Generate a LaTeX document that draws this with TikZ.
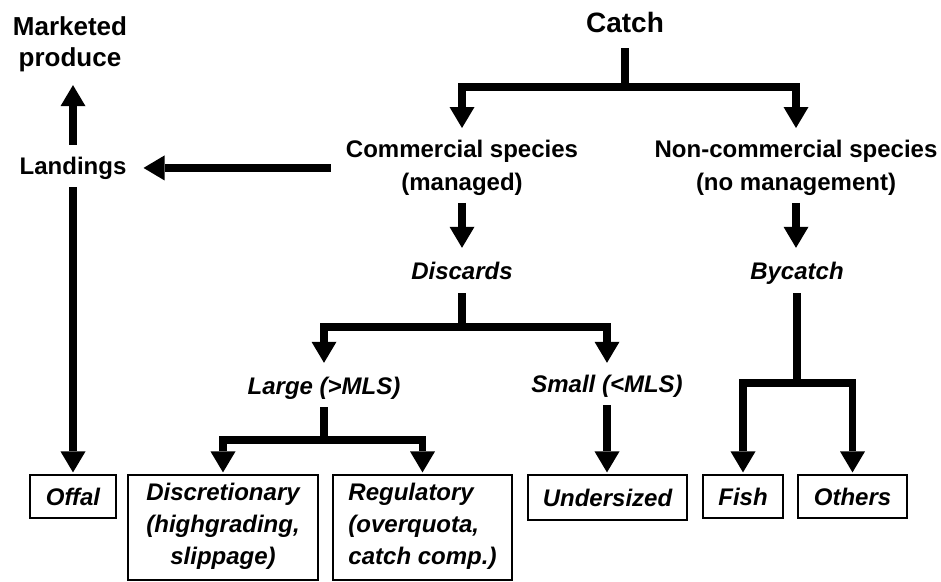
\documentclass[tikz,border=0pt]{standalone}
\usepackage{fontspec}
\setmainfont{Liberation Sans}
\usetikzlibrary{arrows.meta}
\begin{document}
\begin{tikzpicture}[x=1pt,y=-1pt,
  txt/.style={inner sep=0pt, text height=17pt, text depth=5pt, font=\fontsize{24}{33}\selectfont\bfseries},
  itxt/.style={txt, font=\fontsize{24}{33}\selectfont\bfseries\itshape},
  mtxt/.style={inner sep=0pt, align=center, font=\fontsize{24}{33}\selectfont\bfseries},
  box/.style={draw, line width=1.2pt, inner sep=0pt, font=\fontsize{24}{32}\selectfont\bfseries\itshape},
  link/.style={line width=7.5pt, line join=miter},
  arr/.style={link, -{Triangle[width=25pt,length=21pt,line width=0pt]}},
  arrs/.style={link, {Triangle[width=25pt,length=21pt,line width=0pt]}-{Triangle[width=25pt,length=21pt,line width=0pt]}},
]
\useasboundingbox (0,0) rectangle (941,581);

% text nodes
\node[txt, anchor=base, text height=20pt, font=\fontsize{28}{33}\selectfont\bfseries] (catch) at (625,32) {Catch};
\node[mtxt, anchor=north, font=\fontsize{26}{31}\selectfont\bfseries] (market) at (70,16) {Marketed\\produce};
\node[txt, anchor=base] (land) at (73,174) {Landings};
\node[mtxt, anchor=north] (comm) at (462,140) {Commercial species\\(managed)};
\node[mtxt, anchor=north] (noncomm) at (796,140) {Non-commercial species\\(no management)};
\node[itxt, anchor=base] (disc) at (462,279) {Discards};
\node[itxt, anchor=base] (bycatch) at (797,279) {Bycatch};
\node[itxt, anchor=base] (large) at (324,394) {Large (>MLS)};
\node[itxt, anchor=base] (small) at (607,392) {Small (<MLS)};

% boxes
\node[box, minimum width=86pt, minimum height=43pt] (offal) at (73,496.5) {Offal};
\node[box, minimum width=190pt, minimum height=105pt, align=center, text depth=8pt] (discr) at (223,527.5) {Discretionary\\(highgrading,\\slippage)};
\node[box, minimum width=179pt, minimum height=105pt, align=left, text depth=8pt] (reg) at (422.5,527.5) {Regulatory\\(overquota,\\catch comp.)};
\node[box, minimum width=159pt, minimum height=45pt] (under) at (607.5,497.5) {Undersized};
\node[box, minimum width=80pt, minimum height=43pt] (fish) at (743,496.5) {Fish};
\node[box, minimum width=109pt, minimum height=43pt] (others) at (852.5,496.5) {Others};

% junctions
\coordinate (catchbar) at (625,87);
\coordinate (discbar) at (462,327);
\coordinate (largebar) at (324,440);
\coordinate (bybar) at (797,383);

% connectors
\draw[link, shorten <=11pt] (catch.south) -- (catchbar);
\draw[arrs, shorten <=12pt, shorten >=12pt] (comm.north) |- (catchbar) -| (noncomm.north);
\draw[arr, shorten <=15pt, shorten >=17pt] (comm.west) -- (comm.west -| land.east);
\draw[arr, shorten <=12pt, shorten >=13.5pt] (land.north) -- (land.north |- market.south);
\draw[arr, shorten <=8pt, shorten >=2pt] (land.south) -- (land.south |- offal.north);
\draw[arr, shorten <=7pt, shorten >=14pt] (comm.south) -- (comm.south |- disc.north);
\draw[arr, shorten <=7pt, shorten >=14pt] (noncomm.south) -- (noncomm.south |- bycatch.north);
\draw[link, shorten <=9pt] (disc.south) -- (discbar);
\draw[arrs, shorten <=14pt, shorten >=12pt] (large.north) |- (discbar) -| (small.north);
\draw[link, shorten <=8pt] (large.south) -- (largebar);
\draw[arrs, shorten <=2pt, shorten >=2pt] (discr.north) |- (largebar) -| (reg.north);
\draw[arr, shorten <=8pt, shorten >=2pt] (small.south) -- (small.south |- under.north);
\draw[link, shorten <=9pt] (bycatch.south) -- (bybar);
\draw[arrs, shorten <=2pt, shorten >=2pt] (fish.north) |- (bybar) -| (others.north);
\end{tikzpicture}
\end{document}
